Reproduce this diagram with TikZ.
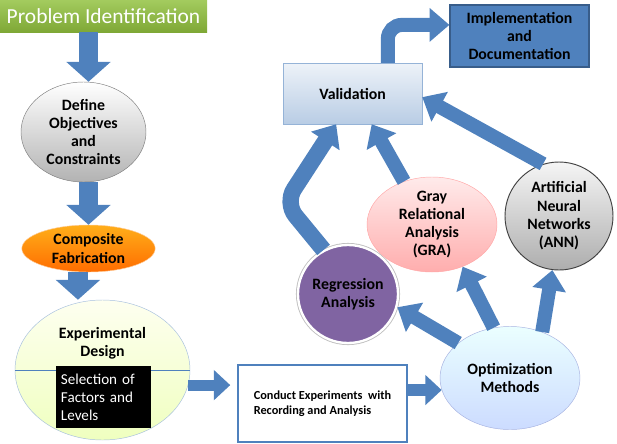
\documentclass[tikz,border=0pt]{standalone}
\usepackage{fontspec}
\setmainfont{Carlito}
\usetikzlibrary{shapes.geometric,arrows.meta}

\definecolor{flowblue}{HTML}{4F81BD}
\definecolor{flowdark}{HTML}{385D8A}
\definecolor{probtop}{HTML}{A3CB5E}
\definecolor{probbot}{HTML}{7FA836}
\definecolor{regpurple}{HTML}{8064A2}

\tikzset{
  flow/.style={draw=flowblue, line width=12pt, -{Triangle[length=17pt,width=28pt]}},
  bigflow/.style={draw=flowblue, line width=17pt, -{Triangle[length=17pt,width=37pt]}},
  smallflow/.style={draw=flowblue, line width=9.5pt, -{Triangle[length=14pt,width=25pt]}},
  txt/.style={font=\fontsize{13.5}{15.6}\selectfont\bfseries, align=center}
}

\begin{document}
\begin{tikzpicture}[x=0.03cm, y=-0.03cm]
        \tikzstyle{titlebox}=[rectangle,minimum width=6.21cm,minimum height=0.96cm,inner sep=0pt,top color=probtop,bottom color=probbot,text=white,font=\fontsize{18.3}{21}\selectfont]
        \tikzstyle{grayoval}=[ellipse,txt,minimum width=3.75cm,minimum height=3cm,inner sep=0pt,inner ysep=-4pt,draw=black!50,top color=white,bottom color=black!30]
        \tikzstyle{orangeoval}=[ellipse,txt,minimum width=4cm,minimum height=1.41cm,inner sep=0pt,inner ysep=-3pt,draw=orange!40,top color=orange!70!yellow!90,bottom color=orange!85!red]
        \tikzstyle{greenoval}=[ellipse,minimum width=5.25cm,minimum height=4.2cm,draw=flowblue!50,top color=green!8!yellow!6,bottom color=green!25!yellow!25]
        \tikzstyle{blackbox}=[rectangle,fill=black,text=white,text width=2.55cm,inner xsep=0.15cm,minimum height=1.86cm,align=left,font=\fontsize{12.9}{15.4}\selectfont]
        \tikzstyle{plainbox}=[rectangle,draw=flowblue,line width=1.2pt,fill=white,minimum width=5.07cm,minimum height=2.31cm,inner sep=0pt,align=left,font=\fontsize{10.5}{12.8}\selectfont\bfseries]
        \tikzstyle{cyanoval}=[ellipse,txt,minimum width=4.2cm,minimum height=3.09cm,inner sep=0pt,draw=cyan!35!blue!35,top color=cyan!8,bottom color=cyan!30!blue!20]
        \tikzstyle{purpleoval}=[ellipse,txt,minimum width=3cm,minimum height=2.94cm,inner sep=0pt,inner xsep=-3pt,fill=regpurple,draw=white,line width=2pt,preaction={draw=black!25,line width=3.5pt}]
        \tikzstyle{pinkoval}=[ellipse,txt,minimum width=3.9cm,minimum height=2.85cm,inner sep=0pt,inner ysep=-8pt,draw=red!35,top color=red!8,bottom color=red!32]
        \tikzstyle{silveroval}=[ellipse,txt,minimum width=3.24cm,minimum height=3.24cm,inner sep=0pt,inner xsep=-3pt,inner ysep=-6pt,draw=black!75,line width=0.8pt,top color=black!4,bottom color=black!32]
        \tikzstyle{lightbox}=[rectangle,txt,minimum width=4.17cm,minimum height=1.83cm,draw=flowblue!60,top color=flowblue!10,bottom color=flowblue!40]
        \tikzstyle{darkbox}=[rectangle,txt,minimum width=4.17cm,minimum height=1.86cm,fill=flowblue,draw=flowdark,line width=1pt]

        \useasboundingbox (0,0) rectangle (617,443);

        \node[titlebox] (S_1) at (103.5,16) {Problem Identification};
        \node[grayoval] (S_2) at (83.5,132) {Define\\Objectives\\and\\Constraints};
        \node[orangeoval] (S_3) at (88.5,248.5) {Composite\\Fabrication};
        \node[greenoval] (S_4) at (102.5,370) {};
        \node[txt] (S_4t) at (102.5,343) {Experimental\\Design};
        \draw[flowblue,line width=0.8pt] (S_4.west) -- (S_4.east);
        \node[blackbox] (S_5) at (103.5,397) {Selection of\\Factors and\\Levels};
        \node[plainbox] (S_6) at (322.5,403.5) {Conduct Experiments~ with\\Recording and Analysis};
        \node[cyanoval] (S_7) at (510,378) {Optimization\\Methods};
        \node[purpleoval] (S_8) at (348,294) {Regression\\Analysis};
        \node[pinkoval] (S_9) at (432,224.5) {Gray\\Relational\\Analysis\\(GRA)};
        \node[silveroval] (S_10) at (559,216) {Artificial\\Neural\\Networks\\(ANN)};
        \node[lightbox] (S_11) at (352.5,93.5) {Validation};
        \node[darkbox] (S_12) at (519.5,36) {Implementation\\and\\Documentation};
        \coordinate (bend) at (285,203);

        \draw[bigflow] (S_1.south -| S_3.north) -- (S_2.north -| S_3.north);
        \draw[bigflow] (S_2.south -| S_3.north) -- (S_3.north);
        \draw[bigflow] ([xshift=-9pt]S_3.south) -- ([xshift=-9pt]S_3.south |- S_4.north);
        \draw[smallflow,shorten >=6pt] (S_4.-10) -- (S_4.-10 -| S_6.west);
        \draw[smallflow] (S_6.east |- S_7.190) -- (S_7.190);
        \draw[flow] (S_7.146) -- (S_8.-15);
        \draw[flow] (S_7.108) -- (S_9.-54);
        \draw[flow] (S_7.55) -- (S_10.-97);
        \draw[flow] (S_9.123) -- (S_11.-58);
        \draw[flow] (S_10.107) -- (S_11.-3);
        \draw[flow,line width=14pt,rounded corners=14pt] (S_8.119) -- (bend) -- (S_11.-118);
        \draw[flow,rounded corners=12pt] (S_11.41) |- (S_12.171);
    \end{tikzpicture}
\end{document}
